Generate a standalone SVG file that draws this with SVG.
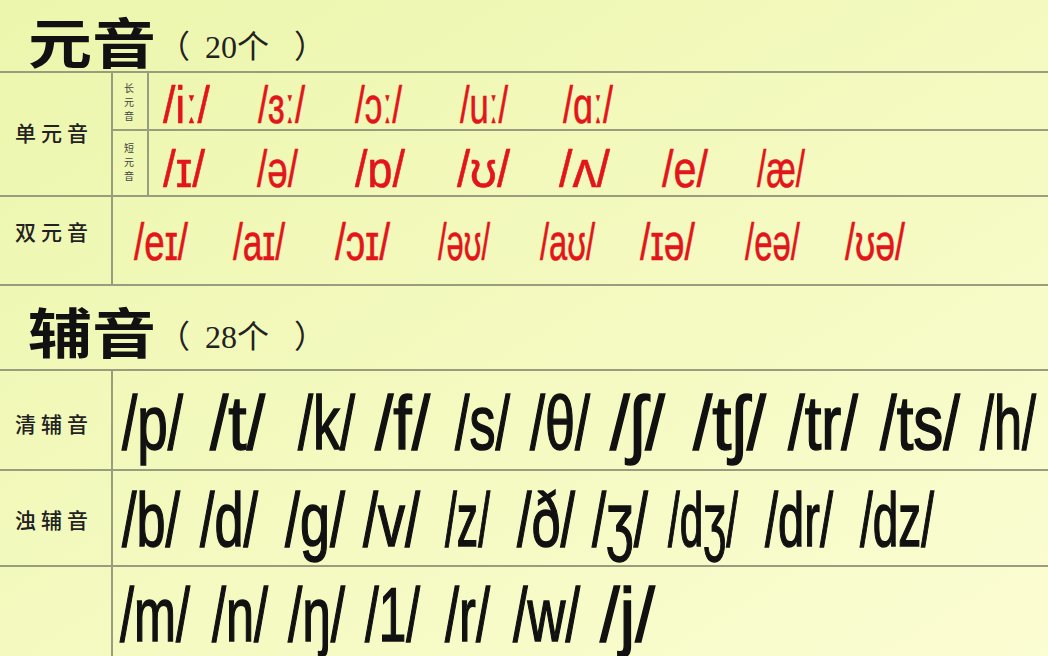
<svg xmlns="http://www.w3.org/2000/svg" width="1048" height="656" viewBox="0 0 1048 656">
<defs>
<linearGradient id="bg" x1="0" y1="0" x2="1" y2="1">
<stop offset="0" stop-color="#ECF6AC"/>
<stop offset="1" stop-color="#FBFDD2"/>
</linearGradient>
<style>
.grid{stroke:#9A9C7E;stroke-width:2;fill:none}
.title{font-family:"Noto Sans CJK SC",sans-serif;font-size:54px;font-weight:600;fill:#111}
.count{font-family:"Liberation Serif","Noto Sans CJK SC",serif;font-size:32px;fill:#222}
.lab{font-family:"Noto Sans CJK SC",sans-serif;font-size:21px;font-weight:500;fill:#222;letter-spacing:5px}
.small{font-family:"Noto Sans CJK SC",sans-serif;font-size:10px;fill:#444;text-anchor:middle}
.v{font-family:"Liberation Sans","DejaVu Sans",sans-serif;font-size:52px;fill:#E3141A;stroke:#E3141A;stroke-width:0.6}
.c{font-family:"Liberation Sans","DejaVu Sans",sans-serif;font-size:76px;fill:#111;stroke:#111;stroke-width:1.5}
</style>
</defs>
<rect width="1048" height="656" fill="url(#bg)"/>
<g id="connectors" class="grid">
<line x1="0" y1="72" x2="1048" y2="72"/>
<line x1="112" y1="130" x2="1048" y2="130"/>
<line x1="0" y1="196" x2="1048" y2="196"/>
<line x1="0" y1="285" x2="1048" y2="285"/>
<line x1="0" y1="370" x2="1048" y2="370"/>
<line x1="0" y1="470" x2="1048" y2="470"/>
<line x1="0" y1="566" x2="1048" y2="566"/>
<line x1="112" y1="72" x2="112" y2="285"/>
<line x1="112" y1="370" x2="112" y2="656"/>
<line x1="148" y1="72" x2="148" y2="196"/>
</g>
<g id="title-vowels">
<text class="title" x="28" y="64" textLength="128" lengthAdjust="spacingAndGlyphs">元音</text>
<text class="count" x="158" y="58">（</text>
<text class="count" x="205" y="58">20个</text>
<text class="count" x="294" y="58">）</text>
</g>
<g id="label-mono"><text class="lab" x="15" y="141">单元音</text></g>
<g id="label-long">
<text class="small" x="129" y="92">长</text>
<text class="small" x="129" y="106">元</text>
<text class="small" x="129" y="120">音</text>
</g>
<g id="label-short">
<text class="small" x="129" y="152">短</text>
<text class="small" x="129" y="166">元</text>
<text class="small" x="129" y="180">音</text>
</g>
<g id="long-vowels">
<text class="v" x="163" y="123" textLength="47" lengthAdjust="spacingAndGlyphs">/iː/</text>
<text class="v" x="258" y="123" textLength="47" lengthAdjust="spacingAndGlyphs">/ɜː/</text>
<text class="v" x="355" y="123" textLength="47" lengthAdjust="spacingAndGlyphs">/ɔː/</text>
<text class="v" x="460" y="123" textLength="48" lengthAdjust="spacingAndGlyphs">/uː/</text>
<text class="v" x="563" y="123" textLength="50" lengthAdjust="spacingAndGlyphs">/ɑː/</text>
</g>
<g id="short-vowels">
<text class="v" x="163" y="187" textLength="42" lengthAdjust="spacingAndGlyphs">/ɪ/</text>
<text class="v" x="257" y="187" textLength="41" lengthAdjust="spacingAndGlyphs">/ə/</text>
<text class="v" x="355" y="187" textLength="50" lengthAdjust="spacingAndGlyphs">/ɒ/</text>
<text class="v" x="457" y="187" textLength="53" lengthAdjust="spacingAndGlyphs">/ʊ/</text>
<text class="v" x="559" y="187" textLength="51" lengthAdjust="spacingAndGlyphs">/ʌ/</text>
<text class="v" x="662" y="187" textLength="46" lengthAdjust="spacingAndGlyphs">/e/</text>
<text class="v" x="757" y="187" textLength="48" lengthAdjust="spacingAndGlyphs">/æ/</text>
</g>
<g id="label-diph"><text class="lab" x="15" y="240">双元音</text></g>
<g id="diphthongs">
<text class="v" x="134" y="260" textLength="54" lengthAdjust="spacingAndGlyphs">/eɪ/</text>
<text class="v" x="233" y="260" textLength="52" lengthAdjust="spacingAndGlyphs">/aɪ/</text>
<text class="v" x="335" y="260" textLength="55" lengthAdjust="spacingAndGlyphs">/ɔɪ/</text>
<text class="v" x="438" y="260" textLength="52" lengthAdjust="spacingAndGlyphs">/əʊ/</text>
<text class="v" x="540" y="260" textLength="55" lengthAdjust="spacingAndGlyphs">/aʊ/</text>
<text class="v" x="640" y="260" textLength="55" lengthAdjust="spacingAndGlyphs">/ɪə/</text>
<text class="v" x="745" y="260" textLength="55" lengthAdjust="spacingAndGlyphs">/eə/</text>
<text class="v" x="845" y="260" textLength="60" lengthAdjust="spacingAndGlyphs">/ʊə/</text>
</g>
<g id="title-consonants">
<text class="title" x="28" y="354" textLength="128" lengthAdjust="spacingAndGlyphs">辅音</text>
<text class="count" x="158" y="348">（</text>
<text class="count" x="205" y="348">28个</text>
<text class="count" x="294" y="348">）</text>
</g>
<g id="label-voiceless"><text class="lab" x="15" y="432">清辅音</text></g>
<g id="voiceless" transform="scale(0.72,1)">
<text class="c" x="169.4" y="449" textLength="84.7" lengthAdjust="spacingAndGlyphs">/p/</text>
<text class="c" x="291.7" y="449" textLength="76.4" lengthAdjust="spacingAndGlyphs">/t/</text>
<text class="c" x="413.9" y="449" textLength="79.2" lengthAdjust="spacingAndGlyphs">/k/</text>
<text class="c" x="520.8" y="449" textLength="76.4" lengthAdjust="spacingAndGlyphs">/f/</text>
<text class="c" x="631.9" y="449" textLength="76.4" lengthAdjust="spacingAndGlyphs">/s/</text>
<text class="c" x="736.1" y="449" textLength="83.3" lengthAdjust="spacingAndGlyphs">/θ/</text>
<text class="c" x="847.2" y="449" textLength="76.4" lengthAdjust="spacingAndGlyphs">/ʃ/</text>
<text class="c" x="962.5" y="449" textLength="101.4" lengthAdjust="spacingAndGlyphs">/tʃ/</text>
<text class="c" x="1094.4" y="449" textLength="97.2" lengthAdjust="spacingAndGlyphs">/tr/</text>
<text class="c" x="1222.2" y="449" textLength="111.1" lengthAdjust="spacingAndGlyphs">/ts/</text>
<text class="c" x="1361.1" y="449" textLength="77.8" lengthAdjust="spacingAndGlyphs">/h/</text>
</g>
<g id="label-voiced"><text class="lab" x="15" y="528">浊辅音</text></g>
<g id="voiced" transform="scale(0.72,1)">
<text class="c" x="169.4" y="546" textLength="80.6" lengthAdjust="spacingAndGlyphs">/b/</text>
<text class="c" x="277.8" y="546" textLength="80.6" lengthAdjust="spacingAndGlyphs">/d/</text>
<text class="c" x="395.8" y="546" textLength="83.3" lengthAdjust="spacingAndGlyphs">/g/</text>
<text class="c" x="504.2" y="546" textLength="79.2" lengthAdjust="spacingAndGlyphs">/v/</text>
<text class="c" x="618.1" y="546" textLength="62.5" lengthAdjust="spacingAndGlyphs">/z/</text>
<text class="c" x="718.1" y="546" textLength="80.6" lengthAdjust="spacingAndGlyphs">/ð/</text>
<text class="c" x="822.2" y="546" textLength="77.8" lengthAdjust="spacingAndGlyphs">/ʒ/</text>
<text class="c" x="927.8" y="546" textLength="97.2" lengthAdjust="spacingAndGlyphs">/dʒ/</text>
<text class="c" x="1062.5" y="546" textLength="94.4" lengthAdjust="spacingAndGlyphs">/dr/</text>
<text class="c" x="1194.4" y="546" textLength="102.8" lengthAdjust="spacingAndGlyphs">/dz/</text>
</g>
<g id="nasals" transform="scale(0.72,1)">
<text class="c" x="166.7" y="641" textLength="97.2" lengthAdjust="spacingAndGlyphs">/m/</text>
<text class="c" x="294.4" y="641" textLength="77.8" lengthAdjust="spacingAndGlyphs">/n/</text>
<text class="c" x="400" y="641" textLength="79.2" lengthAdjust="spacingAndGlyphs">/ŋ/</text>
<text class="c" x="506.9" y="641" textLength="76.4" lengthAdjust="spacingAndGlyphs">/1/</text>
<text class="c" x="618.1" y="641" textLength="62.5" lengthAdjust="spacingAndGlyphs">/r/</text>
<text class="c" x="712.5" y="641" textLength="93.1" lengthAdjust="spacingAndGlyphs">/w/</text>
<text class="c" x="833.3" y="641" textLength="76.4" lengthAdjust="spacingAndGlyphs">/j/</text>
</g>
</svg>
